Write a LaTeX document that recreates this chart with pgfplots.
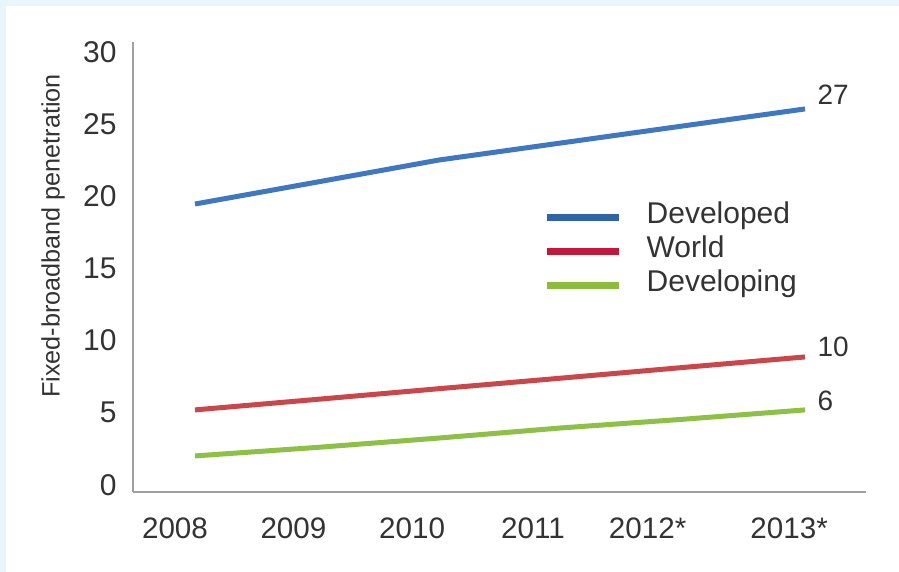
\documentclass[border=0pt]{standalone}
\usepackage{pgfplots}
\pgfplotsset{compat=1.18}
\usepackage{fontspec}
\setmainfont{Liberation Sans}
\definecolor{bgblue}{HTML}{E8F5FB}
\definecolor{txt}{HTML}{333333}
\definecolor{axgray}{HTML}{A0A0A0}
\definecolor{devd}{HTML}{3F78C1}
\definecolor{devdleg}{HTML}{2F64A6}
\definecolor{wrld}{HTML}{C9464A}
\definecolor{wrldleg}{HTML}{C1193A}
\definecolor{devg}{HTML}{8DC044}
\definecolor{devgleg}{HTML}{8CBC3C}
\begin{document}
\begin{tikzpicture}
\fill[bgblue] (-66.5pt,-40pt) rectangle (383pt,246pt);
\fill[white] (-63.5pt,-40pt) rectangle (383pt,243pt);
\begin{axis}[
  at={(0,0)}, anchor=south west,
  scale only axis,
  width=366.5pt, height=225pt,
  xmin=-0.508, xmax=5.5,
  ymin=-0.49, ymax=30.7,
  axis x line=bottom, axis y line=left,
  axis line style={-, axgray, line width=0.8pt},
  major tick length=0pt,
  xtick={-0.164,0.807,1.78,2.77,3.71,4.87},
  xticklabels={2008,2009,2010,2011,2012*,2013*},
  ytick={0,5,10,15,20,25,30},
  /pgf/number format/assume math mode=true,
  xticklabel style={anchor=north, inner sep=0pt, yshift=-12.5pt, font=\fontsize{14.8}{16}\selectfont, text=txt},
  yticklabel style={anchor=east, inner sep=0pt, xshift=-8pt, font=\fontsize{15}{16}\selectfont, text=txt},
  ylabel={Fixed-broadband penetration},
  every axis y label/.style={at={(axis description cs:-0.109,0.569)}, rotate=90, anchor=center, font=\fontsize{12.6}{14}\selectfont, text=txt},
  legend style={at={(axis description cs:0.56,0.638)}, anchor=north west, draw=none, fill=none,
    font=\fontsize{15}{17}\selectfont, text=txt, inner sep=0pt, row sep=5pt,
    nodes={inner sep=0pt, text height=9pt, text depth=3pt}},
  legend cell align=left,
  legend image code/.code={\draw[#1] (0pt,0pt) -- (36pt,0pt); \path (48pt,0pt);},
  clip=false,
]
\addplot[devd, line width=2.5pt, forget plot] coordinates {(0,19.47) (1,20.99) (2,22.52) (3,23.70) (4,24.88) (5,26.06)}
  node[pos=1, anchor=west, inner sep=0pt, xshift=5pt, yshift=7pt, font=\fontsize{14}{16}\selectfont, text=txt] {27};
\addplot[wrld, line width=2.5pt, forget plot] coordinates {(0,5.20) (1,5.93) (2,6.67) (3,7.40) (4,8.14) (5,8.87)}
  node[pos=1, anchor=west, inner sep=0pt, xshift=5pt, yshift=5pt, font=\fontsize{14}{16}\selectfont, text=txt] {10};
\addplot[devg, line width=2.5pt, forget plot] coordinates {(0,2.01) (1,2.60) (2,3.25) (3,3.95) (4,4.55) (5,5.20)}
  node[pos=1, anchor=west, inner sep=0pt, xshift=5pt, yshift=4.5pt, font=\fontsize{14}{16}\selectfont, text=txt] {6};
\addlegendimage{devdleg, line width=3.4pt}
\addlegendentry{Developed}
\addlegendimage{wrldleg, line width=3.4pt}
\addlegendentry{World}
\addlegendimage{devgleg, line width=3.4pt}
\addlegendentry{Developing}
\end{axis}
\pgfresetboundingbox
\useasboundingbox (-66.5pt,-40pt) rectangle (383pt,246pt);
\end{tikzpicture}
\end{document}
